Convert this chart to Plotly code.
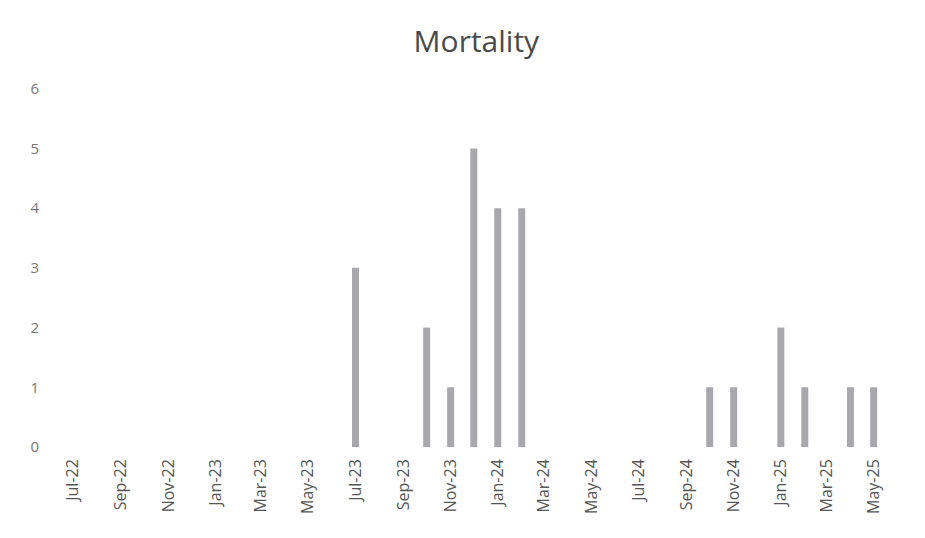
import plotly.graph_objects as go

# Monthly mortality counts (months with no deaths omitted)
months = ["2023-07-01", "2023-10-01", "2023-11-01", "2023-12-01", "2024-01-01",
          "2024-02-01", "2024-10-01", "2024-11-01", "2025-01-01", "2025-02-01",
          "2025-04-01", "2025-05-01"]
deaths = [3, 2, 1, 5, 4, 4, 1, 1, 2, 1, 1, 1]

# Axis ticks: every second month, Jul-22 to May-25
tick_dates = ["2022-07-01", "2022-09-01", "2022-11-01", "2023-01-01", "2023-03-01",
              "2023-05-01", "2023-07-01", "2023-09-01", "2023-11-01", "2024-01-01",
              "2024-03-01", "2024-05-01", "2024-07-01", "2024-09-01", "2024-11-01",
              "2025-01-01", "2025-03-01", "2025-05-01"]
tick_labels = ["Jul-22", "Sep-22", "Nov-22", "Jan-23", "Mar-23", "May-23",
               "Jul-23", "Sep-23", "Nov-23", "Jan-24", "Mar-24", "May-24",
               "Jul-24", "Sep-24", "Nov-24", "Jan-25", "Mar-25", "May-25"]

DAY_MS = 86400000
bar_width = 9.0 * DAY_MS

fig = go.Figure(
    go.Bar(
        x=months,
        y=deaths,
        width=[bar_width] * len(months),
        marker=dict(color="#a7a7ad", line=dict(width=0)),
    )
)

fig.update_layout(
    width=925,
    height=538,
    paper_bgcolor="white",
    plot_bgcolor="white",
    margin=dict(l=50, r=15, t=75, b=91),
    showlegend=False,
    title=dict(
        text="Mortality",
        x=0.515,
        xanchor="center",
        y=0.922,
        yanchor="middle",
        font=dict(family="Open Sans", size=30, color="#4a4a4a"),
    ),
    font=dict(family="Open Sans", color="#666666"),
)

fig.update_xaxes(
    type="date",
    range=["2022-06-01", "2025-06-17"],
    tickmode="array",
    tickvals=tick_dates,
    ticktext=tick_labels,
    tickangle=-90,
    tickfont=dict(size=16, color="#555555"),
    ticklabelstandoff=8,
    showgrid=False,
    showline=False,
    zeroline=False,
    ticks="",
)

fig.update_yaxes(
    range=[0, 6.23],
    tickvals=[0, 1, 2, 3, 4, 5, 6],
    tickfont=dict(size=15, color="#777777"),
    showgrid=False,
    showline=False,
    zeroline=False,
    ticks="",
    ticklabelstandoff=10,
)

fig.write_html("out.html")
